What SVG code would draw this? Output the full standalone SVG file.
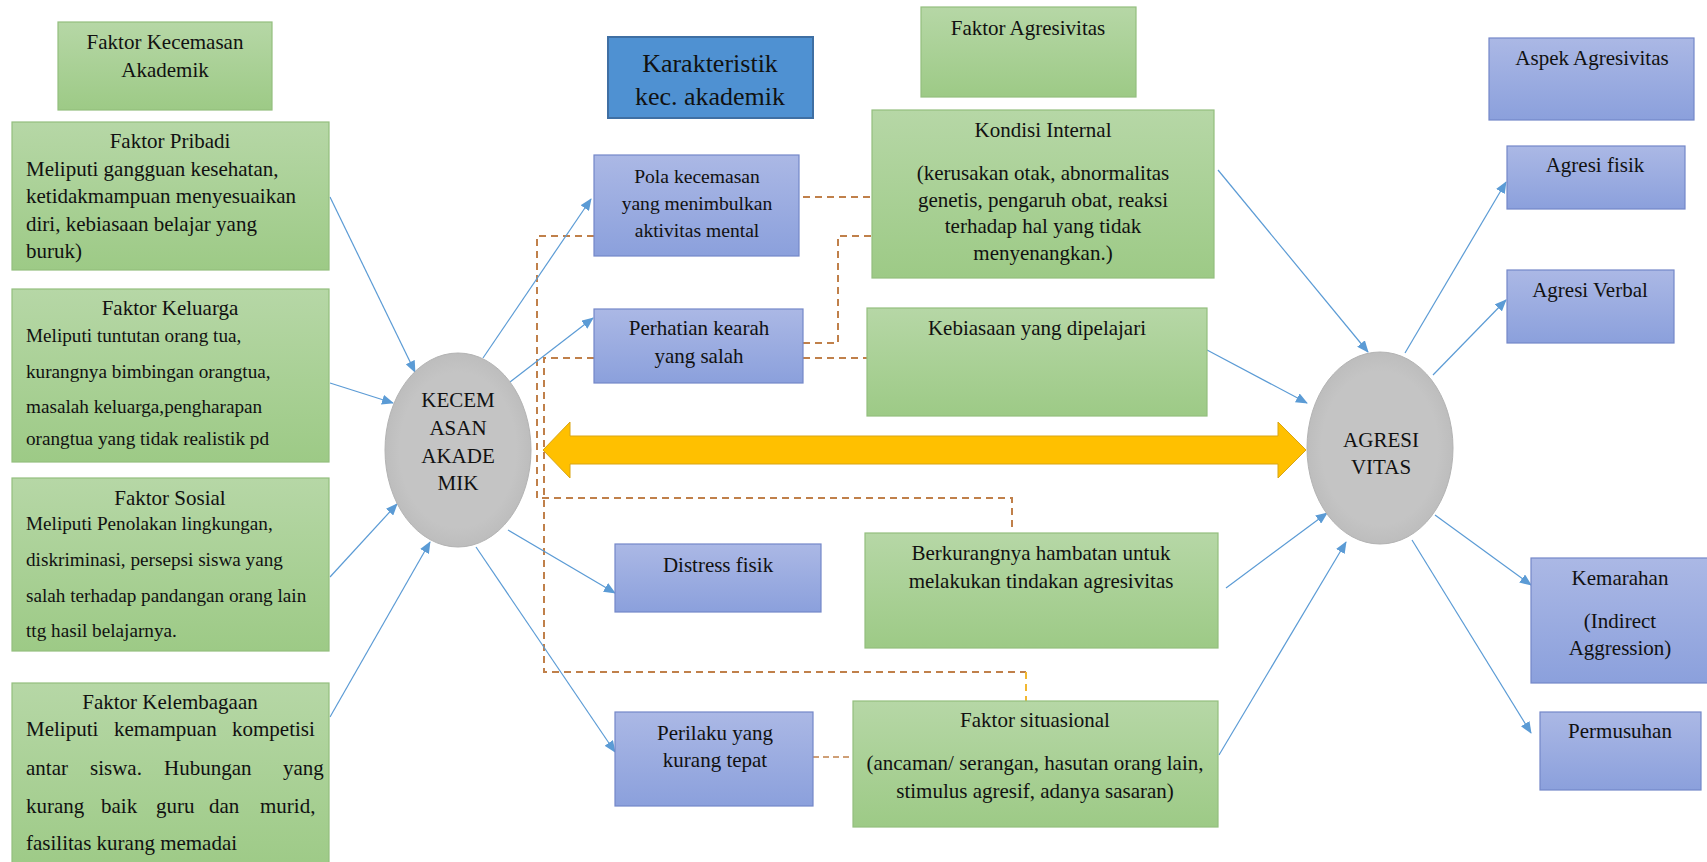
<svg xmlns="http://www.w3.org/2000/svg" width="1707" height="862" viewBox="0 0 1707 862" font-family="Liberation Serif, DejaVu Serif, serif">
<defs>
<linearGradient id="gGreen" x1="0" y1="0" x2="0" y2="1">
<stop offset="0" stop-color="#b6d7a6"/>
<stop offset="1" stop-color="#9dca86"/>
</linearGradient>
<linearGradient id="gBlue" x1="0" y1="0" x2="0" y2="1">
<stop offset="0" stop-color="#abb8e5"/>
<stop offset="1" stop-color="#8ba0dc"/>
</linearGradient>
<radialGradient id="gGray" cx="0.5" cy="0.5" r="0.5">
<stop offset="0.8" stop-color="#c4c4c4"/>
<stop offset="1" stop-color="#bdbdbd"/>
</radialGradient>
<marker id="ah" markerUnits="userSpaceOnUse" markerWidth="12" markerHeight="10" refX="11" refY="5" orient="auto">
<path d="M0,0 L12,5 L0,10 z" fill="#5b9bd5"/>
</marker>
<style>
.g{fill:url(#gGreen);stroke:#93bf7e;stroke-width:1.2}
.b{fill:url(#gBlue);stroke:#7487c8;stroke-width:1.2}
.e{fill:url(#gGray);stroke:#b3b3b3;stroke-width:1}
text{font-family:Liberation Serif,DejaVu Serif,serif;font-size:21px;fill:#111}
.c{text-anchor:middle}
.s19{font-size:19.2px}
.s20{font-size:19.6px}
.s26{font-size:26px}
.arr{stroke:#5b9bd5;stroke-width:1.2;fill:none;marker-end:url(#ah)}
.d{stroke:#c0804a;stroke-width:2;fill:none;stroke-dasharray:7,5}
.dy{stroke:#f2b730;stroke-width:2;fill:none;stroke-dasharray:7,5}
.dt{stroke:#c0804a;stroke-width:1.3;fill:none;stroke-dasharray:6,4}
</style>
</defs>
<rect width="1707" height="862" fill="#ffffff"/>

<g id="connectors">
<polygon id="double-arrow" points="543,450 570,422 570,436 1278,436 1278,422 1306,450 1278,478 1278,464 570,464 570,478" fill="#ffc000" stroke="#d9a514" stroke-width="1"/>
<path class="d" d="M594,236 H537 V498 H1012 V532"/>
<path class="d" d="M594,358 H544 V672 H1026"/>
<path class="dy" d="M1026,672 V701"/>
<path class="d" d="M803,197 H872"/>
<path class="d" d="M803,343 H838 V236 H872"/>
<path class="d" d="M803,358 H868"/>
<path class="dt" d="M813,757 H853"/>
<line class="arr" x1="330" y1="197" x2="415" y2="372"/>
<line class="arr" x1="330" y1="383" x2="393" y2="403"/>
<line class="arr" x1="330" y1="577" x2="397" y2="504"/>
<line class="arr" x1="330" y1="717" x2="430" y2="542"/>
<line class="arr" x1="483" y1="358" x2="591" y2="199"/>
<line class="arr" x1="510" y1="382" x2="593" y2="318"/>
<line class="arr" x1="508" y1="530" x2="615" y2="593"/>
<line class="arr" x1="476" y1="547" x2="615" y2="752"/>
<line class="arr" x1="1218" y1="170" x2="1368" y2="352"/>
<line class="arr" x1="1207" y1="350" x2="1307" y2="403"/>
<line class="arr" x1="1226" y1="588" x2="1327" y2="513"/>
<line class="arr" x1="1219" y1="755" x2="1346" y2="542"/>
<line class="arr" x1="1405" y1="353" x2="1506" y2="182"/>
<line class="arr" x1="1433" y1="375" x2="1506" y2="300"/>
<line class="arr" x1="1435" y1="515" x2="1531" y2="585"/>
<line class="arr" x1="1412" y1="540" x2="1531" y2="733"/>
</g>

<g id="faktor-kecemasan-akademik">
<rect class="g" x="58" y="22" width="214" height="88"/>
<text class="c" x="165" y="49">Faktor Kecemasan</text>
<text class="c" x="165" y="77">Akademik</text>
</g>

<g id="faktor-pribadi">
<rect class="g" x="12" y="122" width="317" height="148"/>
<text class="c" x="170" y="148">Faktor Pribadi</text>
<text x="26" y="176">Meliputi gangguan kesehatan,</text>
<text x="26" y="203">ketidakmampuan menyesuaikan</text>
<text x="26" y="231">diri, kebiasaan belajar yang</text>
<text x="26" y="258">buruk)</text>
</g>

<g id="faktor-keluarga">
<rect class="g" x="12" y="289" width="317" height="173"/>
<text class="c" x="170" y="315">Faktor Keluarga</text>
<text class="s19" x="26" y="342">Meliputi tuntutan orang tua,</text>
<text class="s19" x="26" y="378">kurangnya bimbingan orangtua,</text>
<text class="s19" x="26" y="413">masalah keluarga,pengharapan</text>
<text class="s19" x="26" y="445">orangtua yang tidak realistik pd</text>
</g>

<g id="faktor-sosial">
<rect class="g" x="12" y="478" width="317" height="173"/>
<text class="c" x="170" y="505">Faktor Sosial</text>
<text class="s19" x="26" y="530">Meliputi Penolakan lingkungan,</text>
<text class="s19" x="26" y="566">diskriminasi, persepsi siswa yang</text>
<text class="s19" x="26" y="602">salah terhadap pandangan orang lain</text>
<text class="s19" x="26" y="637">ttg hasil belajarnya.</text>
</g>

<g id="faktor-kelembagaan">
<rect class="g" x="12" y="683" width="317" height="190"/>
<text class="c" x="170" y="709">Faktor Kelembagaan</text>
<text y="736"><tspan x="26">Meliputi</tspan><tspan x="114">kemampuan</tspan><tspan x="232">kompetisi</tspan></text>
<text y="775"><tspan x="26">antar</tspan><tspan x="90">siswa.</tspan><tspan x="164">Hubungan</tspan><tspan x="283">yang</tspan></text>
<text y="813"><tspan x="26">kurang</tspan><tspan x="101">baik</tspan><tspan x="156">guru</tspan><tspan x="209">dan</tspan><tspan x="260">murid,</tspan></text>
<text x="26" y="850">fasilitas kurang memadai</text>
</g>

<g id="kecemasan-akademik">
<ellipse class="e" cx="458" cy="450" rx="73" ry="97"/>
<text class="c" x="458" y="407">KECEM</text>
<text class="c" x="458" y="435">ASAN</text>
<text class="c" x="458" y="463">AKADE</text>
<text class="c" x="458" y="490">MIK</text>
</g>

<g id="karakteristik">
<rect x="608" y="37" width="205" height="81" fill="#4f91d2" stroke="#3f6fa3" stroke-width="2"/>
<text class="c s26" x="710" y="72">Karakteristik</text>
<text class="c s26" x="710" y="105">kec. akademik</text>
</g>

<g id="pola-kecemasan">
<rect class="b" x="594" y="155" width="205" height="101"/>
<text class="c s20" x="697" y="183">Pola kecemasan</text>
<text class="c s20" x="697" y="210">yang menimbulkan</text>
<text class="c s20" x="697" y="237">aktivitas mental</text>
</g>

<g id="perhatian">
<rect class="b" x="594" y="309" width="209" height="74"/>
<text class="c" x="699" y="335">Perhatian kearah</text>
<text class="c" x="699" y="363">yang salah</text>
</g>

<g id="distress-fisik">
<rect class="b" x="615" y="544" width="206" height="68"/>
<text class="c" x="718" y="572">Distress fisik</text>
</g>

<g id="perilaku">
<rect class="b" x="615" y="712" width="198" height="94"/>
<text class="c" x="715" y="740">Perilaku yang</text>
<text class="c" x="715" y="767">kurang tepat</text>
</g>

<g id="faktor-agresivitas">
<rect class="g" x="921" y="7" width="215" height="90"/>
<text class="c" x="1028" y="35">Faktor Agresivitas</text>
</g>

<g id="kondisi-internal">
<rect class="g" x="872" y="110" width="342" height="168"/>
<text class="c" x="1043" y="137">Kondisi Internal</text>
<text class="c" x="1043" y="180">(kerusakan otak, abnormalitas</text>
<text class="c" x="1043" y="207">genetis, pengaruh obat, reaksi</text>
<text class="c" x="1043" y="233">terhadap hal yang tidak</text>
<text class="c" x="1043" y="260">menyenangkan.)</text>
</g>

<g id="kebiasaan">
<rect class="g" x="867" y="308" width="340" height="108"/>
<text class="c" x="1037" y="335">Kebiasaan yang dipelajari</text>
</g>

<g id="berkurangnya">
<rect class="g" x="865" y="533" width="353" height="115"/>
<text class="c" x="1041" y="560">Berkurangnya hambatan untuk</text>
<text class="c" x="1041" y="588">melakukan tindakan agresivitas</text>
</g>

<g id="faktor-situasional">
<rect class="g" x="853" y="701" width="365" height="126"/>
<text class="c" x="1035" y="727">Faktor situasional</text>
<text class="c" x="1035" y="770">(ancaman/ serangan, hasutan orang lain,</text>
<text class="c" x="1035" y="798">stimulus agresif, adanya sasaran)</text>
</g>

<g id="agresivitas">
<ellipse class="e" cx="1380" cy="448" rx="73" ry="96"/>
<text class="c" x="1381" y="447">AGRESI</text>
<text class="c" x="1381" y="474">VITAS</text>
</g>

<g id="aspek-agresivitas">
<rect class="b" x="1489" y="38" width="205" height="82"/>
<text class="c" x="1592" y="65">Aspek Agresivitas</text>
</g>

<g id="agresi-fisik">
<rect class="b" x="1507" y="146" width="178" height="63"/>
<text class="c" x="1595" y="172">Agresi fisik</text>
</g>

<g id="agresi-verbal">
<rect class="b" x="1507" y="270" width="167" height="73"/>
<text class="c" x="1590" y="297">Agresi Verbal</text>
</g>

<g id="kemarahan">
<rect class="b" x="1531" y="558" width="180" height="125"/>
<text class="c" x="1620" y="585">Kemarahan</text>
<text class="c" x="1620" y="628">(Indirect</text>
<text class="c" x="1620" y="655">Aggression)</text>
</g>

<g id="permusuhan">
<rect class="b" x="1540" y="712" width="161" height="78"/>
<text class="c" x="1620" y="738">Permusuhan</text>
</g>
</svg>
